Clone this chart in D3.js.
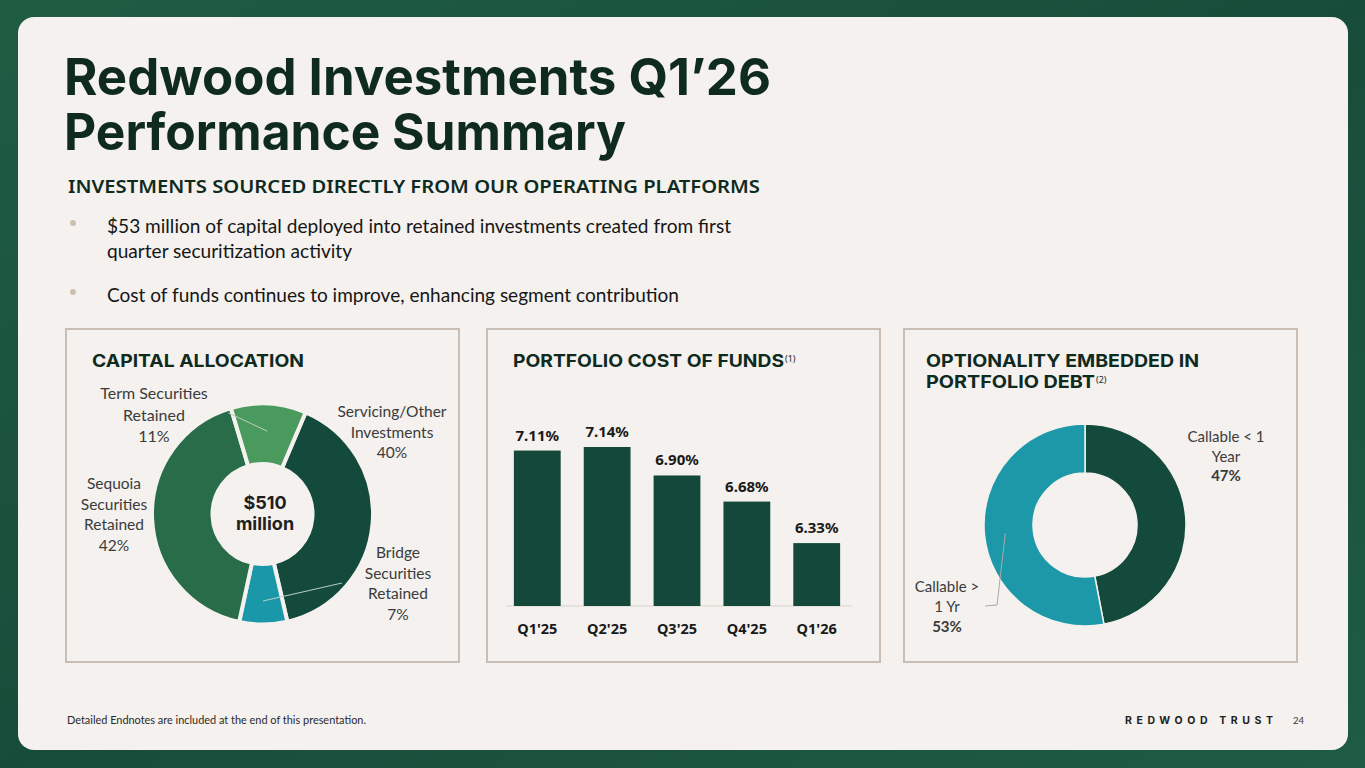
<!DOCTYPE html>
<html>
<head>
<meta charset="utf-8">
<script src="https://cdn.jsdelivr.net/npm/d3@7"></script>
<style>
  html, body { margin: 0; padding: 0; background: #1c5741; }
  svg { display: block; }
</style>
</head>
<body>
<div id="slide"></div>
<script>
// ---- data ----
const allocNames = ["Servicing/Other Investments", "Bridge Securities Retained", "Sequoia Securities Retained", "Term Securities Retained"]
const allocShares = [40, 7, 42, 11]
const allocTotal = "$510 million"

const costQuarters = ["Q1'25", "Q2'25", "Q3'25", "Q4'25", "Q1'26"]
const costValues = [7.11, 7.14, 6.90, 6.68, 6.33]

const debtNames = ["Callable < 1 Year", "Callable > 1 Yr"]
const debtShares = [47, 53]

const bullets = [
  ["$53 million of capital deployed into retained investments created from first", "quarter securitization activity"],
  ["Cost of funds continues to improve, enhancing segment contribution"]
]

// ---- setup ----
const W = 1365, H = 768
const INK = "#0f2a1e", GREY = "#3b3b3b", CARD = "#f4f1ee"
const HEAD = "Inter, 'DejaVu Sans', sans-serif"
const BODY = "Lato, 'Noto Sans', sans-serif"
const SANS = "'Noto Sans', 'Open Sans', sans-serif"

const svg = d3.select("#slide").append("svg").attr("width", W).attr("height", H)

const defs = svg.append("defs")
const bg = defs.append("linearGradient").attr("id", "bg").attr("x1", 0).attr("y1", 0).attr("x2", 1).attr("y2", 1)
bg.append("stop").attr("offset", 0).attr("stop-color", "#1f5d43")
bg.append("stop").attr("offset", 0.5).attr("stop-color", "#184c3a")
bg.append("stop").attr("offset", 1).attr("stop-color", "#1f5c44")

svg.append("rect").attr("width", W).attr("height", H).attr("fill", "url(#bg)")
svg.append("rect").attr("x", 18).attr("y", 17).attr("width", 1330).attr("height", 733)
  .attr("rx", 16).attr("fill", CARD)

// squeeze / stretch text to the width seen in the slide
function fit(sel, w, adj) {
  sel.attr("textLength", w).attr("lengthAdjust", adj || "spacingAndGlyphs")
  return sel
}

// ---- header ----
fit(svg.append("text").attr("x", 64).attr("y", 95).text("Redwood Investments Q1’26")
  .attr("font-family", HEAD).attr("font-weight", 700).attr("font-size", 51).attr("fill", INK), 707)
fit(svg.append("text").attr("x", 64).attr("y", 150).text("Performance Summary")
  .attr("font-family", HEAD).attr("font-weight", 700).attr("font-size", 51).attr("fill", INK), 562)

fit(svg.append("text").attr("x", 68).attr("y", 193).text("INVESTMENTS SOURCED DIRECTLY FROM OUR OPERATING PLATFORMS")
  .attr("font-family", SANS).attr("font-weight", 600).attr("font-size", 17).attr("fill", INK), 692)

const bulletY = [233, 302]
const bulletW = [[624, 245], [572]]
bullets.forEach((lines, i) => {
  svg.append("circle").attr("cx", 73).attr("cy", bulletY[i] - 10).attr("r", 3).attr("fill", "#cdbfae")
  lines.forEach((ln, j) => {
    fit(svg.append("text").attr("x", 107).attr("y", bulletY[i] + j * 25).text(ln)
      .attr("font-family", BODY).attr("font-size", 19).attr("fill", "#161616"), bulletW[i][j])
  })
})

// ---- panels ----
const panelX = [66, 487, 904]
panelX.forEach(x => {
  svg.append("rect").attr("x", x).attr("y", 329).attr("width", 393).attr("height", 333)
    .attr("fill", "none").attr("stroke", "#c9bdb4").attr("stroke-width", 2)
})

function panelTitle(x, y, txt, w, sup) {
  const t = svg.append("text").attr("x", x).attr("y", y).text(txt)
    .attr("font-family", HEAD).attr("font-weight", 700).attr("font-size", 17.5).attr("fill", INK)
  fit(t, w)
  if (sup) {
    svg.append("text").attr("x", x + w + 1).attr("y", y - 5).text(sup)
      .attr("font-family", SANS).attr("font-size", 9).attr("fill", INK)
  }
}
panelTitle(92, 367, "CAPITAL ALLOCATION", 212)
panelTitle(513, 367, "PORTFOLIO COST OF FUNDS", 271, "(1)")
panelTitle(926, 367, "OPTIONALITY EMBEDDED IN", 273)
panelTitle(926, 388, "PORTFOLIO DEBT", 169, "(2)")

function multiline(g, x, y, lines, opts) {
  const t = g.append("text").attr("x", x).attr("y", y).attr("text-anchor", "middle")
    .attr("font-family", opts.family).attr("font-size", opts.size).attr("fill", opts.fill)
  lines.forEach((ln, i) => {
    t.append("tspan").attr("x", x).attr("dy", i === 0 ? 0 : opts.lh).text(ln)
      .attr("font-weight", opts.boldLast && i === lines.length - 1 ? 700 : (opts.weight || 400))
  })
  return t
}

// ---- panel 1: capital allocation donut ----
{
  const cx = 262.5, cy = 514
  const g = svg.append("g").attr("transform", `translate(${cx},${cy})`)
  const allocColors = ["#134a3b", "#1b97aa", "#286c49", "#4a9a5e"]
  const start = 23 * Math.PI / 180
  const pie = d3.pie().sort(null).startAngle(start).endAngle(start + 2 * Math.PI)
  const arcs = pie(allocShares)
  const arc = d3.arc().innerRadius(50).outerRadius(110.5)
  g.selectAll("path").data(arcs).join("path")
    .attr("d", arc).attr("fill", (d, i) => allocColors[i])
    .attr("stroke", CARD).attr("stroke-width", 4).attr("stroke-linejoin", "miter")

  // leader lines for the small slices (Term, Bridge) from inside the slice to the label
  const leaders = [
    { i: 3, from: [-34, -101] },
    { i: 1, from: [79.5, 69] }
  ]
  leaders.forEach(l => {
    const c = d3.arc().innerRadius(75).outerRadius(95).centroid(arcs[l.i])
    g.append("line").attr("x1", l.from[0]).attr("y1", l.from[1]).attr("x2", c[0]).attr("y2", c[1] + 2)
      .attr("stroke", "#b9cfc6").attr("stroke-width", 1)
  })

  // labels
  const labelPos = [[392, 417], [398, 558], [114, 489], [154, 399]]
  arcs.forEach((d, i) => {
    let lines
    if (i === 0) lines = ["Servicing/Other", "Investments"]
    else if (i === 3) lines = ["Term Securities", "Retained"]
    else lines = allocNames[i].split(" ")
    lines = lines.concat([allocShares[i] + "%"])
    multiline(svg, labelPos[i][0], labelPos[i][1], lines,
      { family: BODY, size: i === 3 ? 16 : 15.5, fill: GREY, lh: i === 3 ? 21.5 : 20.5 })
  })

  multiline(svg, 265, 509, allocTotal.split(" "),
    { family: HEAD, size: 18, fill: "#1f1f1f", lh: 20.5, weight: 700 })
}

// ---- panel 2: cost of funds bars ----
{
  const x = d3.scaleBand().domain(costQuarters).range([502, 852]).paddingInner(0.33).paddingOuter(0.17)
  const y = d3.scaleLinear().domain([5.8, 7.14]).range([606, 447])
  const g = svg.append("g")
  g.append("line").attr("x1", 506).attr("x2", 852).attr("y1", y(5.8)).attr("y2", y(5.8))
    .attr("stroke", "#e2ddd8").attr("stroke-width", 1.5)
  g.selectAll("rect.bar").data(costValues).join("rect").attr("class", "bar")
    .attr("x", (d, i) => x(costQuarters[i])).attr("width", x.bandwidth())
    .attr("y", d => y(d)).attr("height", d => y(5.8) - y(d)).attr("fill", "#14483a")
  g.selectAll("text.val").data(costValues).join("text").attr("class", "val")
    .attr("x", (d, i) => x(costQuarters[i]) + x.bandwidth() / 2).attr("y", d => y(d) - 10)
    .attr("text-anchor", "middle").attr("font-family", SANS).attr("font-weight", 700)
    .attr("font-size", 15).attr("fill", "#1a1a1a").text(d => d.toFixed(2) + "%")
  const axis = d3.axisBottom(x).tickSize(0).tickPadding(0)
  const ax = g.append("g").attr("transform", `translate(0,621)`).call(axis)
  ax.select(".domain").remove()
  ax.selectAll("text").attr("font-family", SANS).attr("font-weight", 700).attr("font-size", 14.5)
    .attr("fill", "#1a1a1a").attr("dy", "0.9em")
}

// ---- panel 3: optionality donut ----
{
  const cx = 1085, cy = 525
  const g = svg.append("g").attr("transform", `translate(${cx},${cy})`)
  const debtColors = ["#134a3b", "#1d98a9"]
  const arcs = d3.pie().sort(null)(debtShares)
  const arc = d3.arc().innerRadius(52).outerRadius(101)
  g.selectAll("path").data(arcs).join("path")
    .attr("d", arc).attr("fill", (d, i) => debtColors[i])
    .attr("stroke", CARD).attr("stroke-width", 1.5)

  // leader from the teal slice to its label
  const c = d3.arc().innerRadius(70).outerRadius(100).centroid(arcs[1])
  g.append("polyline")
    .attr("points", [[c[0] + 5, c[1]], [-88, 80], [-100, 81]].map(p => p.join(",")).join(" "))
    .attr("fill", "none").attr("stroke", "#a9a9a9").attr("stroke-width", 1)

  multiline(svg, 1226, 442, ["Callable < 1", "Year", debtShares[0] + "%"],
    { family: BODY, size: 15, fill: GREY, lh: 19.5, boldLast: true })
  multiline(svg, 947, 592, ["Callable >", "1 Yr", debtShares[1] + "%"],
    { family: BODY, size: 15, fill: GREY, lh: 20, boldLast: true })
}

// ---- footer ----
fit(svg.append("text").attr("x", 67).attr("y", 724).text("Detailed Endnotes are included at the end of this presentation.")
  .attr("font-family", BODY).attr("font-size", 10.5).attr("fill", "#2a2a2a"), 299)
fit(svg.append("text").attr("x", 1125).attr("y", 724).text("REDWOOD TRUST")
  .attr("font-family", HEAD).attr("font-weight", 700).attr("font-size", 10.5).attr("fill", "#222"), 148, "spacing")
svg.append("text").attr("x", 1293).attr("y", 724).text("24")
  .attr("font-family", BODY).attr("font-size", 9.5).attr("fill", "#333")
</script>
</body>
</html>
